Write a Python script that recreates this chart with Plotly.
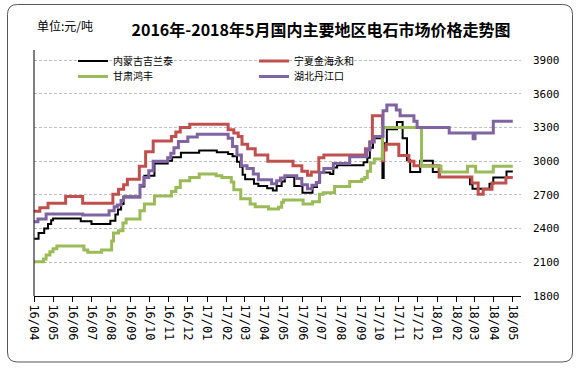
import plotly.graph_objects as go

# ---------------- data ----------------
tick_dates = ["2016-04-01", "2016-05-01", "2016-06-01", "2016-07-01", "2016-08-01", "2016-09-01",
              "2016-10-01", "2016-11-01", "2016-12-01", "2017-01-01", "2017-02-01", "2017-03-01",
              "2017-04-01", "2017-05-01", "2017-06-01", "2017-07-01", "2017-08-01", "2017-09-01",
              "2017-10-01", "2017-11-01", "2017-12-01", "2018-01-01", "2018-02-01", "2018-03-01",
              "2018-04-01", "2018-05-01"]
tick_labels = ["16/04", "16/05", "16/06", "16/07", "16/08", "16/09", "16/10", "16/11", "16/12",
               "17/01", "17/02", "17/03", "17/04", "17/05", "17/06", "17/07", "17/08", "17/09",
               "17/10", "17/11", "17/12", "18/01", "18/02", "18/03", "18/04", "18/05"]
y_ticks = [1800, 2100, 2400, 2700, 3000, 3300, 3600, 3900]

series_names = ["内蒙古吉兰泰", "宁夏金海永和", "甘肃鸿丰", "湖北丹江口"]

nm_dates = ["2016-04-01", "2016-04-08", "2016-04-17", "2016-04-23", "2016-04-28", "2016-05-01",
            "2016-06-14", "2016-07-01", "2016-07-31", "2016-08-08", "2016-08-12", "2016-08-17",
            "2016-08-21", "2016-09-16", "2016-09-23", "2016-10-09", "2016-10-30", "2016-11-06",
            "2016-11-20", "2016-12-19", "2017-01-16", "2017-02-03", "2017-02-10", "2017-02-17",
            "2017-02-22", "2017-02-26", "2017-03-02", "2017-03-16", "2017-03-23", "2017-04-06",
            "2017-04-15", "2017-04-21", "2017-04-29", "2017-05-04", "2017-05-19", "2017-06-01",
            "2017-06-17", "2017-06-24", "2017-06-29", "2017-07-15", "2017-07-20", "2017-07-26",
            "2017-09-06", "2017-09-12", "2017-09-16", "2017-09-21", "2017-10-06", "2017-10-08",
            "2017-10-13", "2017-10-29", "2017-11-07", "2017-11-14", "2017-11-19", "2017-12-05",
            "2017-12-25", "2018-01-05", "2018-02-22", "2018-02-26", "2018-03-25", "2018-03-31",
            "2018-04-21", "2018-05-01"]
nm_values = [2310, 2360, 2400, 2440, 2475, 2490,
             2465, 2440, 2470, 2525, 2570, 2620,
             2685, 2775, 2870, 2980, 3005, 3035,
             3075, 3095, 3080, 3065, 3045, 2995,
             2950, 2880, 2840, 2800, 2780, 2760,
             2740, 2780, 2820, 2860, 2780, 2720,
             2770, 2815, 2900, 2885, 2945, 2965,
             2990, 3030, 3120, 3205, 2850, 3160,
             3285, 3350, 3205, 3010, 2905, 3005,
             2905, 2860, 2795, 2755, 2800, 2855,
             2908, 2908]

nx_dates = ["2016-04-01", "2016-04-10", "2016-04-23", "2016-05-21", "2016-06-17", "2016-08-04",
            "2016-08-13", "2016-08-21", "2016-08-27", "2016-09-15", "2016-09-25", "2016-10-07",
            "2016-11-05", "2016-11-12", "2016-11-19", "2016-12-04", "2017-02-03", "2017-02-12",
            "2017-02-19", "2017-02-25", "2017-03-06", "2017-03-18", "2017-04-07", "2017-05-17",
            "2017-05-31", "2017-06-09", "2017-06-15", "2017-06-27", "2017-07-05", "2017-09-09",
            "2017-09-16", "2017-09-20", "2017-10-06", "2017-10-08", "2017-10-12", "2017-11-01",
            "2017-11-17", "2017-11-25", "2018-01-04", "2018-02-25", "2018-03-07", "2018-03-15",
            "2018-03-29", "2018-04-20", "2018-05-01"]
nx_values = [2555, 2585, 2625, 2685, 2625, 2705,
             2750, 2790, 2840, 2955, 3085, 3180,
             3220, 3260, 3300, 3330, 3280, 3250,
             3220, 3150, 3110, 3055, 3000, 2960,
             2910, 2875, 2905, 3030, 3055, 3110,
             3170, 3405, 3005, 3100, 3150, 3050,
             3000, 2960, 2860, 2805, 2705, 2750,
             2805, 2855, 2855]

gs_dates = ["2016-04-01", "2016-04-16", "2016-04-20", "2016-04-26", "2016-05-01", "2016-05-07",
            "2016-06-19", "2016-06-25", "2016-07-17", "2016-08-02", "2016-08-05", "2016-08-13",
            "2016-08-20", "2016-08-25", "2016-09-16", "2016-09-23", "2016-10-09", "2016-11-05",
            "2016-11-12", "2016-11-19", "2016-12-04", "2016-12-19", "2017-01-15", "2017-01-24",
            "2017-02-08", "2017-02-12", "2017-02-23", "2017-03-10", "2017-03-18", "2017-04-08",
            "2017-04-24", "2017-04-29", "2017-05-02", "2017-06-02", "2017-06-17", "2017-06-28",
            "2017-07-04", "2017-07-22", "2017-08-15", "2017-09-03", "2017-09-08", "2017-09-12",
            "2017-09-17", "2017-09-23", "2017-10-06", "2017-12-07", "2018-01-07", "2018-02-18",
            "2018-03-03", "2018-03-31", "2018-05-01"]
gs_values = [2105, 2130, 2165, 2195, 2220, 2245,
             2210, 2190, 2210, 2290, 2360, 2380,
             2450, 2485, 2560, 2620, 2690, 2730,
             2765, 2825, 2855, 2885, 2870, 2855,
             2815, 2745, 2665, 2620, 2595, 2575,
             2590, 2635, 2655, 2620, 2640, 2705,
             2720, 2775, 2820, 2840, 2855, 2910,
             2985, 3020, 3300, 2955, 2905, 2955,
             2905, 2955, 2955]

hb_dates = ["2016-04-01", "2016-04-07", "2016-04-20", "2016-06-17", "2016-07-29", "2016-08-06",
            "2016-08-11", "2016-08-17", "2016-08-21", "2016-09-16", "2016-09-22", "2016-09-30",
            "2016-10-07", "2016-10-30", "2016-11-04", "2016-11-09", "2016-11-16", "2016-12-01",
            "2016-12-16", "2017-02-03", "2017-02-10", "2017-02-17", "2017-02-24", "2017-03-05",
            "2017-03-15", "2017-03-23", "2017-04-13", "2017-04-21", "2017-04-27", "2017-05-04",
            "2017-05-23", "2017-05-31", "2017-06-09", "2017-06-16", "2017-06-23", "2017-06-28",
            "2017-07-05", "2017-07-20", "2017-08-15", "2017-09-11", "2017-09-16", "2017-09-23",
            "2017-10-07", "2017-10-13", "2017-10-28", "2017-11-03", "2017-11-25", "2017-11-30",
            "2018-01-20", "2018-02-27", "2018-03-02", "2018-03-31", "2018-05-01"]
hb_values = [2460, 2485, 2530, 2520, 2560, 2595,
             2610, 2650, 2680, 2785, 2855, 2915,
             3000, 3030, 3070, 3120, 3175, 3215,
             3240, 3205, 3130, 3055, 2960, 2935,
             2885, 2835, 2800, 2825, 2850, 2870,
             2845, 2790, 2755, 2785, 2810, 2900,
             2935, 2980, 3040, 3100, 3170, 3220,
             3450, 3500, 3455, 3405, 3355, 3300,
             3250, 3200, 3250, 3355, 3355]

# ---------------- layout geometry ----------------
W, H = 577, 368
L, R, T, B = 34, 521, 50, 296   # plot area in pixels


def px(xp):
    return (xp - L) / (R - L)


def py(yp):
    return (B - yp) / (B - T)


CJK = "Noto Sans CJK SC"
MONO = "DejaVu Sans Mono"

fig = go.Figure()
specs = [
    (nm_dates, nm_values, series_names[0], "#000000", 2, "legend"),
    (nx_dates, nx_values, series_names[1], "#C0504D", 3, "legend3"),
    (gs_dates, gs_values, series_names[2], "#9BBB59", 3, "legend2"),
    (hb_dates, hb_values, series_names[3], "#8064A2", 3, "legend4"),
]
for d, v, n, c, w, lg in specs:
    fig.add_trace(go.Scatter(x=d, y=v, name=n, mode="lines",
                             line=dict(color=c, width=w, shape="hv"),
                             legend=lg, hoverinfo="skip"))

leg_common = dict(xanchor="left", yanchor="middle", bgcolor="rgba(0,0,0,0)",
                  borderwidth=0, font=dict(family=CJK, size=10, color="#000000"))

# rounded border path in paper coordinates
bl, bt, br, bb, rad = 7.5, 4.5, 572.5, 362, 10


def pt(xp, yp):
    return f"{px(xp):.5f},{py(yp):.5f}"


path = (f"M{pt(bl+rad, bt)} L{pt(br-rad, bt)} Q{pt(br, bt)} {pt(br, bt+rad)} "
        f"L{pt(br, bb-rad)} Q{pt(br, bb)} {pt(br-rad, bb)} "
        f"L{pt(bl+rad, bb)} Q{pt(bl, bb)} {pt(bl, bb-rad)} "
        f"L{pt(bl, bt+rad)} Q{pt(bl, bt)} {pt(bl+rad, bt)} Z")

fig.update_layout(
    width=W, height=H, autosize=False,
    margin=dict(l=L, r=W - R, t=T, b=H - B, pad=0),
    paper_bgcolor="white", plot_bgcolor="white",
    title=dict(text="2016年-2018年5月国内主要地区电石市场价格走势图",
               x=321 / W, xanchor="center", y=1 - 30 / H, yanchor="middle",
               font=dict(family=CJK, size=16, color="#000000", weight="bold")),
    legend=dict(x=px(73), y=py(61), **leg_common),
    legend2=dict(x=px(73), y=py(76.5), **leg_common),
    legend3=dict(x=px(254), y=py(61), **leg_common),
    legend4=dict(x=px(254), y=py(76.5), **leg_common),
    xaxis=dict(type="date", range=["2016-03-31 18:00", "2018-05-14"],
               tickvals=tick_dates, ticktext=tick_labels, tickangle=90,
               ticks="outside", ticklen=5, tickcolor="#000000",
               showline=True, linecolor="#000000", linewidth=1,
               showgrid=False, zeroline=False, automargin=False,
               tickfont=dict(family=MONO, size=12, color="#000000")),
    yaxis=dict(range=[1800, 3990], tickvals=y_ticks, side="right",
               showline=False, zeroline=False, ticks="",
               ticklabelstandoff=11, automargin=False,
               showgrid=True, gridcolor="#BFBFBF", gridwidth=1, griddash="3px,2px",
               tickfont=dict(family=MONO, size=11, color="#000000")),
    shapes=[
        dict(type="line", xref="paper", yref="paper", x0=0, x1=0, y0=0, y1=1,
             line=dict(color="#000000", width=1)),
        dict(type="path", xref="paper", yref="paper", path=path, layer="above",
             line=dict(color="#555555", width=1)),
    ],
    annotations=[
        dict(text="单位:元/吨", xref="paper", yref="paper", x=px(35), y=py(26),
             xanchor="left", yanchor="middle", showarrow=False,
             font=dict(family=CJK, size=12, color="#000000")),
    ],
    showlegend=True,
)

fig.write_html("out.html",
               config={"displayModeBar": False},
               post_script="document.body.style.margin='0';document.body.style.padding='0';"
                           "document.body.style.overflow='hidden';")
